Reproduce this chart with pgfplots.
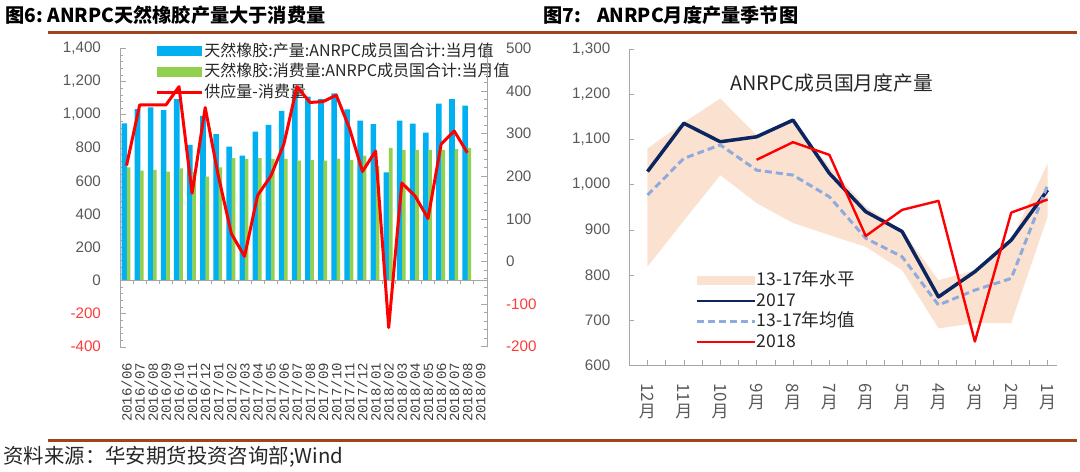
\documentclass[border=0pt]{standalone}
\usepackage{pgfplots}
\pgfplotsset{compat=1.18}
\usepackage{pgfplotstable}
\usepackage{fontspec}
\setmainfont{Liberation Sans}
\newfontfamily\cjk{Noto Sans CJK SC}
\newfontfamily\labmono{Liberation Mono}

\definecolor{rulebrown}{HTML}{A0441E}
\definecolor{barblue}{HTML}{00B0F0}
\definecolor{bargreen}{HTML}{92D050}
\definecolor{linered}{HTML}{FF0000}
\definecolor{navy}{HTML}{0B2560}
\definecolor{avgblue}{HTML}{8FAADC}
\definecolor{peach}{HTML}{FBE2D0}
\definecolor{ticktext}{HTML}{595959}
\definecolor{datetext}{HTML}{404040}
\definecolor{legtext}{HTML}{262626}
\definecolor{axisgray}{HTML}{A6A6A6}
\definecolor{negred}{HTML}{FF3B3B}

\pgfplotsset{
  lleg/.style={legend image code/.code={\draw[##1] (0pt,0pt) -- (22.5pt,0pt);}},
  rleg/.style={legend image code/.code={\draw[##1,line width=1.1pt] (0pt,0pt) -- (29pt,0pt);}},
}

% monthly production / consumption (left axis), supply - consumption (right axis)
\pgfplotstableread{
x prod cons diff
0 947 682 225
1 1033 662 367
2 1043 666 367
3 1027 656 367
4 1094 676 410
5 817 655 160
6 993 626 361
7 883 682 201
8 807 738 65
9 753 733 12
10 897 738 155
11 938 733 200
12 1023 733 275
13 1122 722 410
14 1108 727 373
15 1094 722 375
16 1128 734 390
17 1031 727 313
18 963 752 211
19 943 690 259
20 652 800 -155
21 963 788 184
22 945 788 154
23 892 788 101
24 1067 788 275
25 1094 792 306
26 1054 800 255
}\leftdata

% seasonal chart, 0 = Dec ... 11 = Jan
\pgfplotstableread{
x y17 avg
0 1029 977
1 1136 1058
2 1095 1088
3 1106 1032
4 1143 1021
5 1025 973
6 940 881
7 896 840
8 751 733
9 807 766
10 877 792
11 988 999
}\rightdata

\pgfplotstableread{
x y18
3 1055
4 1094
5 1066
6 886
7 944
8 964
9 652
10 938
11 967
}\rightdataB

% 13-17 range: upper edge Dec..Jan, then lower edge Jan..Dec
\pgfplotstableread{
x y
0 1080
1 1138
2 1191
3 1110
4 1143
5 1040
6 951
7 899
8 788
9 810
10 877
11 1047
11 929
10 693
9 693
8 681
7 810
6 862
5 888
4 915
3 959
2 1021
1 920
0 818
}\banddata

\begin{document}
\begin{tikzpicture}
\useasboundingbox (0,0) rectangle (540pt,235.5pt);

\node[anchor=west, inner sep=0pt, text=black, font={\cjk\bfseries\fontsize{9.6pt}{12pt}\selectfont}] at (2.5pt,228pt) {图6:\ ANRPC天然橡胶产量大于消费量};
\node[anchor=west, inner sep=0pt, text=black, font={\cjk\bfseries\fontsize{9.6pt}{12pt}\selectfont}] at (271.5pt,228pt) {图7:\hspace{8pt}ANRPC月度产量季节图};
\draw[rulebrown, line width=1.5pt] (24pt,219pt) -- (538.5pt,219pt);
\draw[rulebrown, line width=1.5pt] (24pt,15.5pt) -- (538.5pt,15.5pt);
\node[anchor=west, inner sep=0pt, text=legtext, font={\cjk\fontsize{10.2pt}{12pt}\selectfont}] at (1.5pt,7.3pt) {资料来源：华安期货投资咨询部;Wind};

% ---------- left chart ----------
\begin{axis}[
  at={(60pt,62.15pt)}, anchor=south west,
  scale only axis, width=183.5pt, height=149.2pt,
  xmin=-0.5, xmax=27.5, ymin=-400, ymax=1400,
  axis y line*=left, axis x line*=bottom,
  x axis line style={draw=none},
  y axis line style={axisgray},
  xtick={0,...,27},
  xticklabels={2016/06,2016/07,2016/08,2016/09,2016/10,2016/11,2016/12,2017/01,2017/02,2017/03,2017/04,2017/05,2017/06,2017/07,2017/08,2017/09,2017/10,2017/11,2017/12,2018/01,2018/02,2018/03,2018/04,2018/05,2018/06,2018/07,2018/08,2018/09},
  xtick style={draw=none},
  xticklabel style={rotate=90, anchor=east, inner sep=0pt, font={\labmono\fontsize{7pt}{7pt}\selectfont}, text=datetext},
  xticklabel shift=8pt,
  ytick={-400,-200,...,1400},
  yticklabels={\textcolor{negred}{-400},\textcolor{negred}{-200},0,200,400,600,800,{1,000},{1,200},{1,400}},
  minor y tick num=4,
  ytick style={axisgray},
  tick align=inside, major tick length=3pt, minor tick length=1.5pt,
  yticklabel style={font={\fontsize{7.6pt}{9pt}\selectfont}, text=ticktext},
  yticklabel shift=6pt,
  legend cell align=left,
  legend style={draw=none, fill=none, at={(0.095,1.022)}, anchor=north west, inner sep=0pt, row sep=1.1pt,
    nodes={inner sep=0.6pt, text height=6.4pt, text depth=1.6pt},
    font={\cjk\fontsize{8pt}{9pt}\selectfont}, text=legtext},
  legend image code/.code={\fill[#1] (0pt,-2.5pt) rectangle (22.5pt,2.5pt);},
]
\addplot[ybar, fill=barblue, draw=none, bar width=2.8pt, bar shift=-1.1pt] table[x=x, y=prod] {\leftdata};
\addplot[ybar, fill=bargreen, draw=none, bar width=1.8pt, bar shift=1.05pt] table[x=x, y=cons] {\leftdata};
\addlegendimage{lleg, linered, line width=1.5pt}
\draw[axisgray] (axis cs:-0.5,0) -- (axis cs:27.5,0);
\pgfplotsinvokeforeach{-0.5,0.5,...,27.5}{\draw[axisgray] (axis cs:#1,0) -- ++(0pt,-2pt);}
\legend{天然橡胶:产量:ANRPC成员国合计:当月值, 天然橡胶:消费量:ANRPC成员国合计:当月值, 供应量-消费量}
\end{axis}

\begin{axis}[
  at={(60pt,62.15pt)}, anchor=south west,
  scale only axis, width=183.5pt, height=149.2pt,
  xmin=-0.5, xmax=27.5, ymin=-200, ymax=500,
  axis y line*=right, axis x line=none, xtick=\empty,
  y axis line style={axisgray}, ytick style={axisgray},
  ytick={-200,-100,...,500},
  yticklabels={\textcolor{negred}{-200},\textcolor{negred}{-100},0,100,200,300,400,500},
  minor y tick num=4,
  tick align=inside, major tick length=3pt, minor tick length=1.5pt,
  yticklabel style={font={\fontsize{7.6pt}{9pt}\selectfont}, text=ticktext},
  yticklabel shift=6pt,
]
\addplot[linered, line width=1.5pt, line join=round] table[x=x, y=diff] {\leftdata};
\end{axis}

% ---------- right chart ----------
\begin{axis}[
  at={(314.65pt,53pt)}, anchor=south west,
  scale only axis, width=213.7pt, height=157.85pt,
  xmin=-0.5, xmax=11.25, ymin=600, ymax=1300,
  axis y line*=left, axis x line*=bottom,
  axis line style={axisgray},
  xtick={0,...,11},
  xticklabels={{\rotatebox{-90}{12}\\月},{\rotatebox{-90}{11}\\月},{\rotatebox{-90}{10}\\月},{\rotatebox{-90}{9}\\月},{\rotatebox{-90}{8}\\月},{\rotatebox{-90}{7}\\月},{\rotatebox{-90}{6}\\月},{\rotatebox{-90}{5}\\月},{\rotatebox{-90}{4}\\月},{\rotatebox{-90}{3}\\月},{\rotatebox{-90}{2}\\月},{\rotatebox{-90}{1}\\月}},
  minor x tick num=1,
  ytick={600,700,...,1300},
  yticklabels={600,700,800,900,{1,000},{1,100},{1,200},{1,300}},
  tick style={axisgray},
  tick align=inside, major tick length=2.5pt, minor tick length=2.5pt,
  xticklabel style={align=center, anchor=north, inner sep=0pt, font={\cjk\fontsize{8.5pt}{9.5pt}\selectfont}, text=ticktext},
  xticklabel shift=9pt,
  yticklabel style={font={\fontsize{7.6pt}{9pt}\selectfont}, text=ticktext},
  yticklabel shift=6pt,
  legend cell align=left,
  legend style={draw=none, fill=none, at={(0.1537,0.30)}, anchor=north west, inner sep=0pt, row sep=0.2pt,
    nodes={inner sep=0.6pt, text height=7pt, text depth=1.8pt},
    font={\cjk\fontsize{8.8pt}{10pt}\selectfont}, text=legtext},
  rleg,
]
\addplot[fill=peach, draw=none, legend image code/.code={\fill[peach] (0pt,-2.3pt) rectangle (29pt,2.3pt);}] table[x=x, y=y] {\banddata};
\addplot[navy, line width=1.75pt, line join=round] table[x=x, y=y17] {\rightdata};
\addplot[avgblue, line width=1.5pt, dash pattern=on 3.5pt off 2pt] table[x=x, y=avg] {\rightdata};
\addplot[linered, line width=1.2pt, line join=round] table[x=x, y=y18] {\rightdataB};
\legend{13-17年水平, 2017, 13-17年均值, 2018}
\end{axis}

\node[anchor=west, inner sep=0pt, text=legtext, font={\cjk\fontsize{9.9pt}{11pt}\selectfont}] at (365pt,194pt) {ANRPC成员国月度产量};
\end{tikzpicture}
\end{document}
